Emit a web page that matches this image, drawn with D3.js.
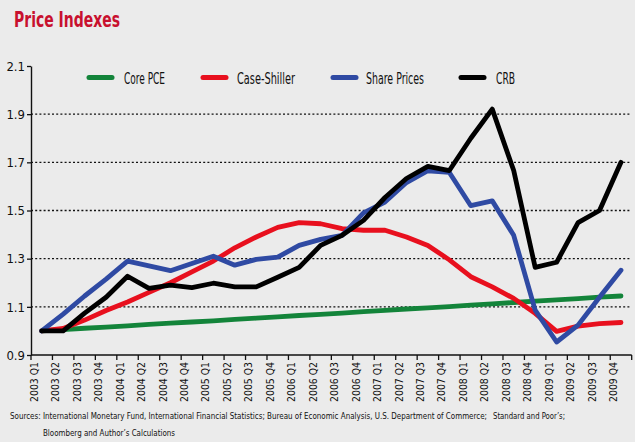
<!DOCTYPE html>
<html><head><meta charset="utf-8">
<script src="https://cdn.jsdelivr.net/npm/d3@7"></script>
<style>
body{margin:0;background:#fff}
svg{display:block}
text{font-family:"Liberation Sans Narrow","DejaVu Sans Condensed","Roboto Condensed","Liberation Sans",sans-serif}
</style>
</head><body>
<svg id="c" width="640" height="442"></svg>
<script>
const quarters = ["2003 Q1","2003 Q2","2003 Q3","2003 Q4","2004 Q1","2004 Q2","2004 Q3","2004 Q4",
  "2005 Q1","2005 Q2","2005 Q3","2005 Q4","2006 Q1","2006 Q2","2006 Q3","2006 Q4",
  "2007 Q1","2007 Q2","2007 Q3","2007 Q4","2008 Q1","2008 Q2","2008 Q3","2008 Q4",
  "2009 Q1","2009 Q2","2009 Q3","2009 Q4"];
const corePCE = [1.000,1.005,1.011,1.016,1.021,1.027,1.032,1.037,1.042,1.048,1.053,1.058,1.064,1.069,
  1.074,1.080,1.085,1.091,1.096,1.101,1.107,1.112,1.118,1.124,1.129,1.134,1.140,1.145];
const caseShiller = [1.000,1.010,1.045,1.085,1.120,1.160,1.200,1.245,1.290,1.345,1.390,1.430,1.450,1.445,
  1.425,1.418,1.418,1.390,1.355,1.295,1.225,1.183,1.135,1.073,0.998,1.020,1.030,1.035];
const sharePrices = [1.000,1.070,1.145,1.215,1.290,1.270,1.250,1.280,1.310,1.273,1.297,1.306,1.355,1.380,
  1.397,1.490,1.535,1.616,1.665,1.658,1.520,1.540,1.397,1.086,0.954,1.024,1.140,1.252];
const crb = [1.000,1.000,1.074,1.140,1.227,1.177,1.190,1.180,1.198,1.183,1.183,1.223,1.264,1.355,
  1.397,1.459,1.554,1.633,1.683,1.666,1.800,1.921,1.666,1.264,1.285,1.450,1.500,1.700];
const yTicks = [0.9,1.1,1.3,1.5,1.7,1.9,2.1];
const gridTicks = [1.1,1.3,1.5,1.7,1.9];
const seriesNames = ["Core PCE","Case-Shiller","Share Prices","CRB"];
const seriesColors = ["#13843a","#e8101e","#2f4aa3","#000000"];
const seriesData = [corePCE, caseShiller, sharePrices, crb];
const sourceParts = ["Sources: International Monetary Fund, International Financial Statistics; Bureau of Economic Analysis, U.S. Department of Commerce;",
  "Standard and Poor\u2019s;", "Bloomberg and Author\u2019s Calculations"];

const svg = d3.select("#c");
svg.append("rect").attr("width",635).attr("height",442).attr("fill","#ebebeb");

// Title
svg.append("text").attr("x",14).attr("y",27).text("Price Indexes")
  .attr("fill","#c8102e").attr("font-size",21).attr("font-weight","bold")
  .attr("textLength",106).attr("lengthAdjust","spacingAndGlyphs");

const x = d3.scaleBand().domain(quarters).range([31,631.7]).padding(0);
const y = d3.scaleLinear().domain([0.9,2.1]).range([355,66]);
const bw = x.bandwidth();

// gridlines
svg.append("g").selectAll("line").data(gridTicks).join("line")
  .attr("x1",31).attr("x2",630).attr("y1",d=>y(d)).attr("y2",d=>y(d))
  .attr("stroke","#111").attr("stroke-width",1.3).attr("stroke-dasharray","2,2.2");

// y axis
const ya = svg.append("g").attr("transform","translate(31,0)")
  .call(d3.axisLeft(y).tickValues(yTicks).tickSize(4).tickSizeOuter(0).tickFormat(d3.format(".1f")));
ya.select(".domain").attr("stroke","#111").attr("stroke-width",1.4);
ya.selectAll(".tick line").attr("stroke","#111").attr("stroke-width",1.3);
ya.selectAll(".tick text").attr("font-size",13).attr("fill","#111").attr("x",-6)
  .attr("font-family","\"Liberation Sans Narrow\",\"DejaVu Sans Condensed\",sans-serif");

// x axis
const xg = svg.append("g");
xg.append("line").attr("x1",31).attr("x2",631.7).attr("y1",355).attr("y2",355)
  .attr("stroke","#111").attr("stroke-width",1.4);
const bounds = quarters.map(q=>x(q)).concat([x(quarters[quarters.length-1])+bw]);
xg.selectAll("line.t").data(bounds).join("line").attr("class","t")
  .attr("x1",d=>d).attr("x2",d=>d).attr("y1",355).attr("y2",360)
  .attr("stroke","#111").attr("stroke-width",1.3);
xg.selectAll("text").data(quarters).join("text")
  .attr("transform",d=>`translate(${x(d)+3},362) rotate(-90)`)
  .attr("text-anchor","end").attr("dy","0.35em")
  .attr("font-size",11).attr("fill","#111")
  .attr("textLength",40).attr("lengthAdjust","spacingAndGlyphs")
  .text(d=>d);

// lines
const line = d3.line().x((d,i)=>x(quarters[i])+bw/2).y(d=>y(d));
svg.append("g").selectAll("path").data(seriesData).join("path")
  .attr("d",d=>line(d)).attr("fill","none")
  .attr("stroke",(d,i)=>seriesColors[i]).attr("stroke-width",4.8)
  .attr("stroke-linejoin","round").attr("stroke-linecap","round");

// legend
const legX = [89,203,333,461];
const legTextX = [124,237,366,496];
const legTextW = [41,58,58,19];
const lg = svg.append("g");
seriesNames.forEach((n,i)=>{
  lg.append("line").attr("x1",legX[i]).attr("x2",legX[i]+23).attr("y1",77.5).attr("y2",77.5)
    .attr("stroke",seriesColors[i]).attr("stroke-width",5).attr("stroke-linecap","round");
  lg.append("text").attr("x",legTextX[i]).attr("y",83.5).text(n)
    .attr("font-size",15).attr("fill","#111")
    .attr("textLength",legTextW[i]).attr("lengthAdjust","spacingAndGlyphs");
});

// sources
const srcX = [10,493,43], srcY = [419,419,436], srcW = [477,72,132], srcF = [8,8,9];
svg.append("g").selectAll("text").data(sourceParts).join("text")
  .attr("x",(d,i)=>srcX[i]).attr("y",(d,i)=>srcY[i]).text(d=>d)
  .attr("font-size",(d,i)=>srcF[i]).attr("fill","#111")
  .attr("textLength",(d,i)=>srcW[i]).attr("lengthAdjust","spacingAndGlyphs");
</script>
</body></html>
